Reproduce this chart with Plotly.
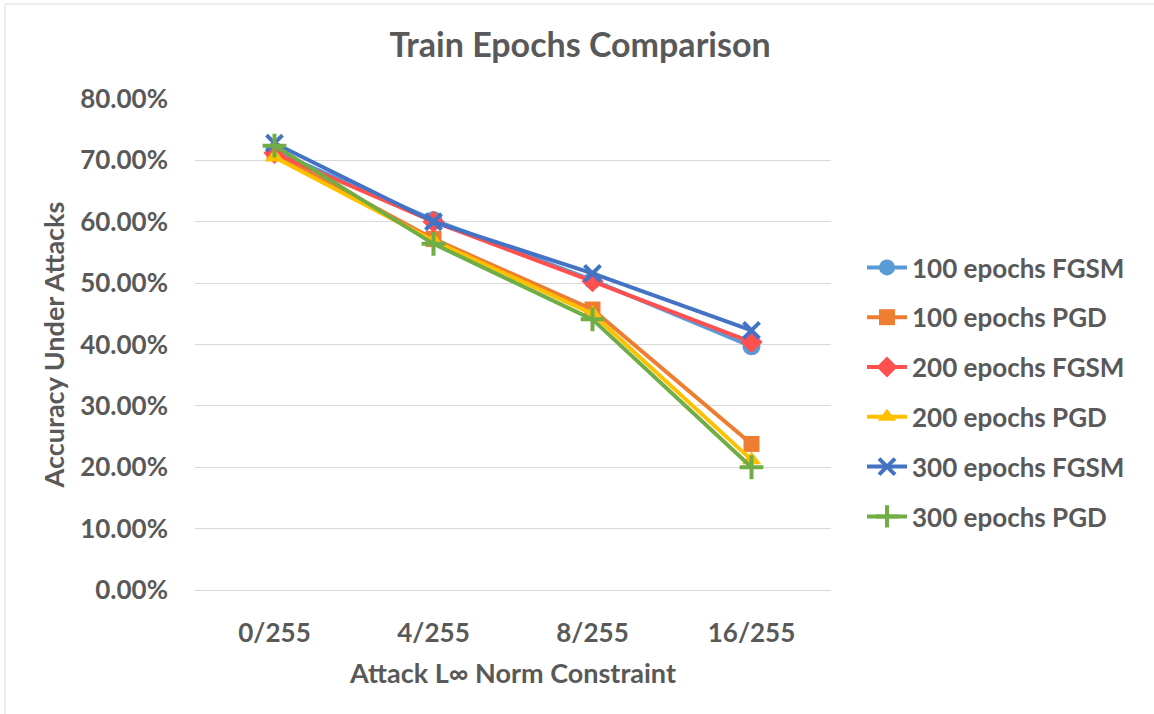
import plotly.graph_objects as go

categories = ["0/255", "4/255", "8/255", "16/255"]
fgsm_100 = [0.715, 0.603, 0.505, 0.397]
pgd_100 = [0.712, 0.572, 0.457, 0.238]
fgsm_200 = [0.712, 0.600, 0.503, 0.404]
pgd_200 = [0.705, 0.569, 0.450, 0.212]
fgsm_300 = [0.728, 0.600, 0.516, 0.423]
pgd_300 = [0.724, 0.564, 0.441, 0.200]

series = [
    ("100 epochs FGSM", fgsm_100, "#5B9BD5", "circle", 18),
    ("100 epochs PGD", pgd_100, "#ED7D31", "square", 16),
    ("200 epochs FGSM", fgsm_200, "#FF5050", "diamond", 17),
    ("200 epochs PGD", pgd_200, "#FFC000", "triangle-up", 17),
    ("300 epochs FGSM", fgsm_300, "#4472C4", "x-thin", 16),
    ("300 epochs PGD", pgd_300, "#70AD47", "cross-thin", 17),
]

FONT = "Lato, Open Sans, sans-serif"
GREY = "#595959"

fig = go.Figure()
for i, (name, vals, col, sym, sz) in enumerate(series):
    thin = sym.endswith("thin")
    fig.add_trace(go.Scatter(
        x=categories, y=vals, name=f"<b>{name}</b>", mode="lines+markers",
        legendgroup=f"g{i}",
        line=dict(color=col, width=4),
        marker=dict(symbol=sym, size=sz, color=col,
                    line=dict(color=col, width=4 if thin else 0)),
    ))

W, H = 1154, 714
L, R, T, B = 195, 323, 99, 124
pw, ph = W - L - R, H - T - B

fig.update_layout(
    width=W, height=H,
    margin=dict(l=L, r=R, t=T, b=B, autoexpand=False),
    paper_bgcolor="white", plot_bgcolor="white",
    font=dict(family=FONT, color=GREY, size=24),
    title=dict(text="<b>Train Epochs Comparison</b>", x=580 / W, xanchor="center",
               y=1 - 45 / H, yanchor="middle",
               font=dict(size=34, color=GREY, family=FONT)),
    xaxis=dict(
        type="category", range=[-0.5, 3.5], showgrid=False, showline=True,
        linecolor="#D9D9D9", linewidth=1,
        ticks="", tickfont=dict(size=26, color=GREY, family=FONT), ticklabelstandoff=20,
        title=dict(text="<b>Attack L∞ Norm Constraint</b>", font=dict(size=27, color=GREY, family=FONT),
                   standoff=16),
        tickprefix="<b>", ticksuffix="</b>",
    ),
    yaxis=dict(
        range=[0, 0.8], dtick=0.1, tickformat=".2%", showgrid=True, gridcolor="#D9D9D9",
        gridwidth=1, zeroline=False, ticks="", ticklabelstandoff=26,
        tickfont=dict(size=26, color=GREY, family=FONT),
        tickprefix="<b>", ticksuffix="</b>",
        title=dict(text="<b>Accuracy Under Attacks</b>", font=dict(size=27, color=GREY, family=FONT),
                   standoff=7),
    ),
    legend=dict(
        x=(862 - L) / pw, xanchor="left", y=(590 - 392) / ph, yanchor="middle",
        font=dict(size=26, color=GREY, family=FONT), tracegroupgap=13,
        bgcolor="rgba(0,0,0,0)", itemwidth=40,
    ),
    showlegend=True,
)

fig.add_shape(type="rect", xref="paper", yref="paper",
              x0=(5 - L) / pw, x1=(1170 - L) / pw,
              y0=(590 - 730) / ph, y1=(590 - 4) / ph,
              line=dict(color="#D9D9D9", width=1), fillcolor="rgba(0,0,0,0)", layer="below")

fig.write_html("out.html", config={"displayModeBar": False},
               post_script="document.body.style.margin='0px';")
